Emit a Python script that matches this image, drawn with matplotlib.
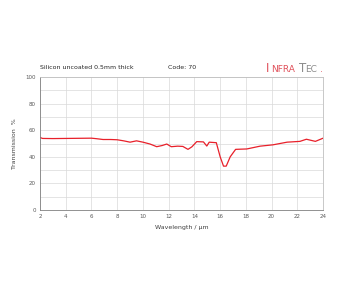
import numpy as np
import matplotlib.pyplot as plt

# transmission curve
wavelength = [2.0, 2.2, 3.0, 4.0, 5.0, 6.0, 6.4, 6.9, 7.5, 8.0, 8.5, 9.0, 9.5,
              10.0, 10.55, 11.07, 11.5, 11.85, 12.2, 12.7, 13.1, 13.5, 13.8,
              14.18, 14.7, 14.96, 15.15, 15.7, 16.0, 16.26, 16.47, 16.78,
              17.2, 18.07, 19.1, 20.1, 21.2, 22.2, 22.7, 23.4, 24.0]
transmission = [54.5, 53.8, 53.7, 53.8, 53.9, 54.0, 53.6, 53.0, 53.0, 52.8,
                52.0, 51.0, 52.0, 51.0, 49.6, 47.6, 48.5, 49.6, 47.6, 48.0,
                47.8, 45.6, 47.5, 51.4, 51.2, 48.1, 51.0, 50.6, 40.0, 33.0,
                33.0, 40.0, 45.6, 45.9, 48.0, 49.0, 51.0, 51.6, 53.2, 51.6,
                54.0]

x_ticks = list(range(2, 25, 2))
y_ticks = list(range(0, 101, 20))

fig = plt.figure(figsize=(3.44, 2.87), dpi=100)
ax = fig.add_axes([0.1163, 0.268, 0.823, 0.464])

ax.plot(wavelength, transmission, color='#e8202a', lw=0.9)

ax.set_xlim(2, 24)
ax.set_ylim(0, 100)
ax.set_xticks(x_ticks)
ax.set_yticks(y_ticks)
ax.set_yticks(range(0, 101, 10), minor=True)
ax.grid(True, which='both', color='#d9d9d9', lw=0.5)
ax.tick_params(which='both', length=0, labelsize=4, colors='#595959', pad=3)
for s in ax.spines.values():
    s.set_color('#bfbfbf')
    s.set_linewidth(0.6)
ax.spines['left'].set_color('#808080')
ax.spines['bottom'].set_color('#808080')

ax.set_xlabel('Wavelength / µm', fontsize=4.5, color='#404040', labelpad=4)
ax.set_ylabel('Transmission  %', fontsize=4.5, color='#404040', labelpad=6)

fig.text(0.116, 0.758, 'Silicon uncoated 0.5mm thick', fontsize=4.5, color='#262626')
fig.text(0.488, 0.758, 'Code: 70', fontsize=4.5, color='#262626')

# logo
red = '#e0505a'
grey = '#8c8c8c'
fig.text(0.773, 0.750, 'I', fontsize=8.5, color=red)
fig.text(0.788, 0.750, 'NFRA', fontsize=6.5, color=red)
fig.text(0.868, 0.750, 'T', fontsize=8.5, color=grey)
fig.text(0.888, 0.750, 'EC', fontsize=6.5, color=grey)
fig.text(0.930, 0.750, '.', fontsize=6.5, color=red)

fig.savefig('out.png', dpi=100)
